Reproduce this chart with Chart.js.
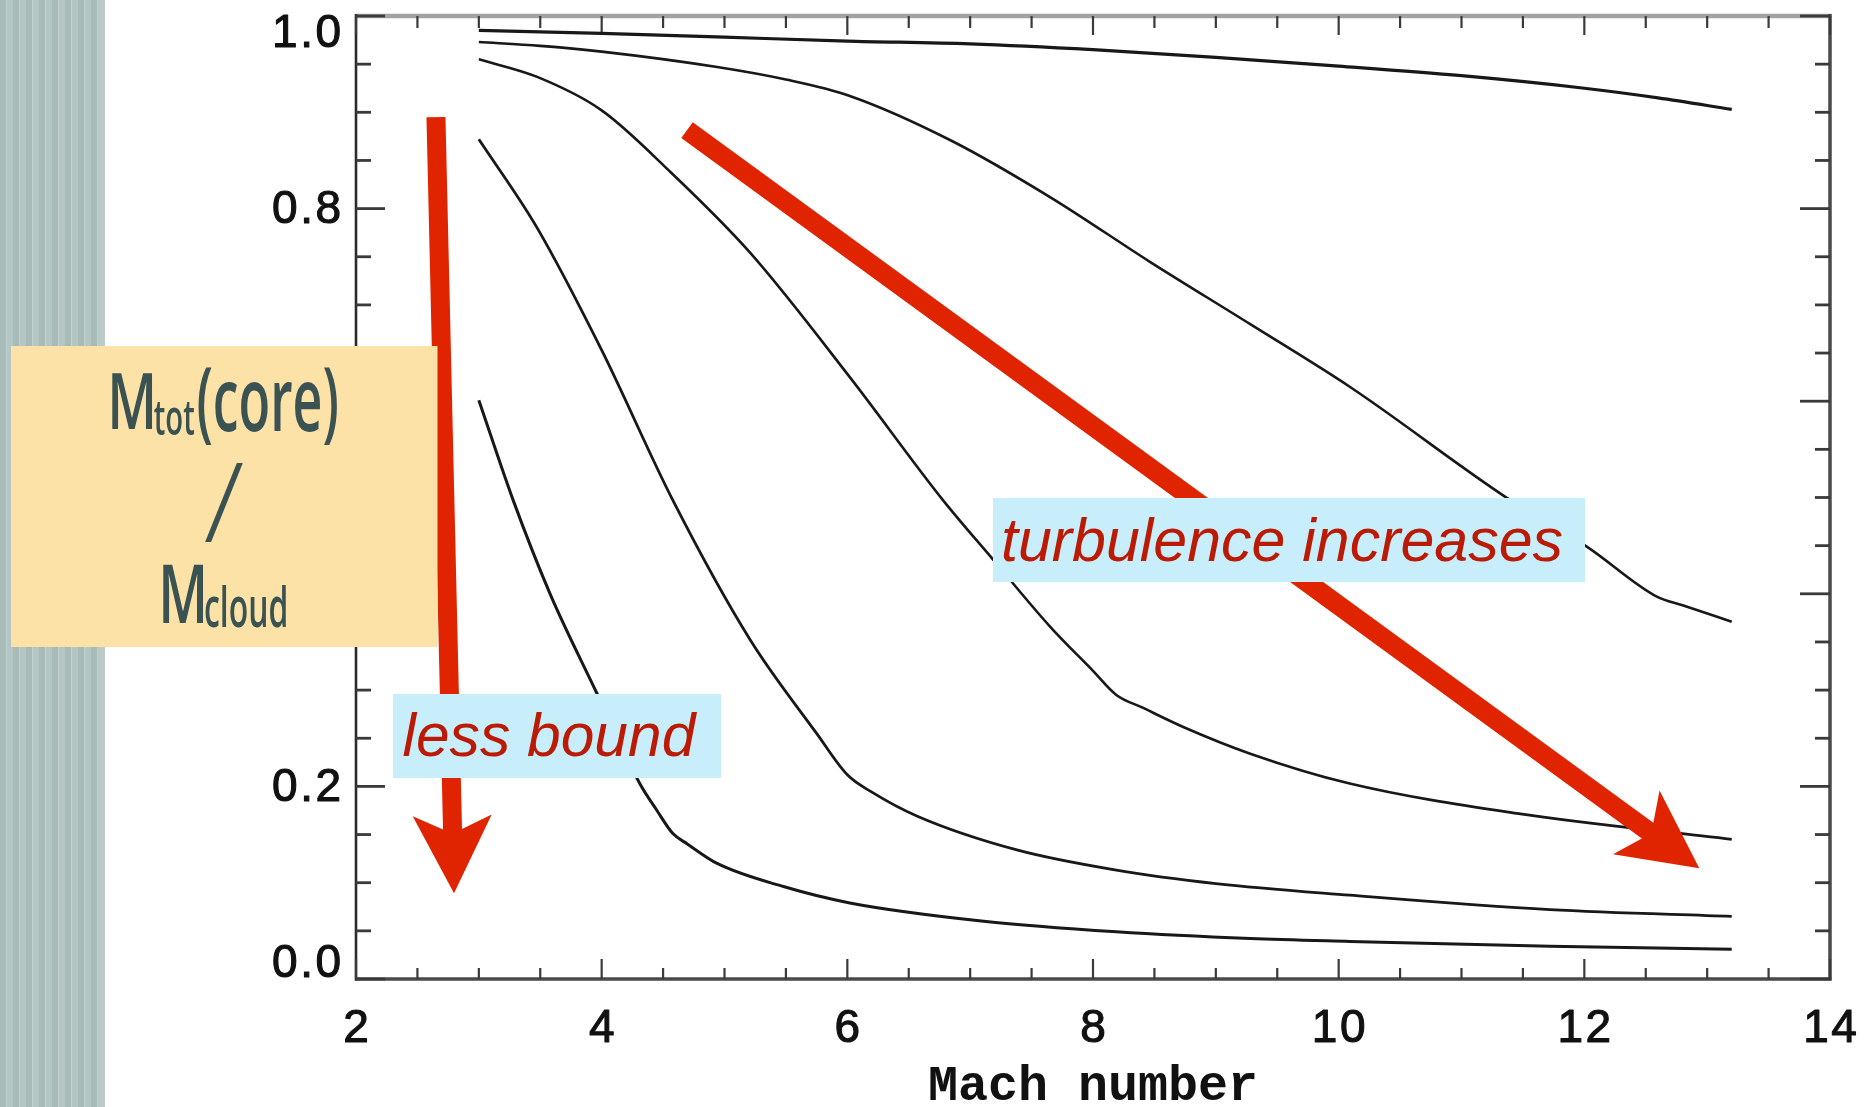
<!DOCTYPE html>
<html>
<head>
<meta charset="utf-8">
<title>Core mass fraction vs Mach number</title>
<script src="https://cdn.jsdelivr.net/npm/chart.js@4"></script>
<style>
  html, body { margin: 0; padding: 0; background: #fff; overflow: hidden; }
  canvas { display: block; }
</style>
</head>
<body>
<canvas id="chart" width="1867" height="1107"></canvas>
<script>
// ---- data: core-to-cloud mass fraction as a function of Mach number, one curve per model ----
const machA = [3.0, 4.0, 5.0, 6.0, 7.0, 8.0, 9.0, 10.0, 11.0, 12.0, 12.6, 13.2];
const fracA = [0.985, 0.982, 0.978, 0.974, 0.971, 0.965, 0.957, 0.948, 0.938, 0.925, 0.915, 0.903];

const machB = [3.0, 3.5, 4.0, 4.94, 5.5, 6.02, 6.84, 7.65, 8.46, 9.28, 10.09, 11.4, 12.02, 12.59, 12.8, 13.2];
const fracB = [0.973, 0.969, 0.963, 0.947, 0.934, 0.917, 0.871, 0.812, 0.745, 0.680, 0.615, 0.497, 0.449, 0.397, 0.388, 0.371];

const machC = [3.0, 3.47, 4.0, 4.56, 5.21, 6.02, 6.78, 7.19, 7.65, 8.0, 8.19, 8.4, 8.73, 9.28, 10.09, 11.45, 13.2];
const fracC = [0.955, 0.937, 0.902, 0.838, 0.754, 0.625, 0.497, 0.435, 0.366, 0.320, 0.295, 0.282, 0.262, 0.234, 0.203, 0.172, 0.145];

const machD = [3.0, 3.47, 4.0, 4.58, 5.21, 5.75, 6.0, 6.2, 6.57, 7.38, 8.19, 9.0, 10.09, 11.72, 13.2];
const fracD = [0.872, 0.781, 0.653, 0.497, 0.352, 0.255, 0.212, 0.194, 0.169, 0.134, 0.113, 0.099, 0.087, 0.072, 0.065];

const machE = [3.0, 3.28, 3.58, 3.96, 4.31, 4.45, 4.58, 4.7, 4.94, 5.48, 6.02, 7.11, 8.19, 9.28, 10.09, 11.72, 13.2];
const fracE = [0.601, 0.497, 0.400, 0.297, 0.203, 0.175, 0.151, 0.140, 0.120, 0.096, 0.079, 0.060, 0.049, 0.042, 0.039, 0.034, 0.031];

// ---- axis ticks and labels ----
const xTickValues = [2, 4, 6, 8, 10, 12, 14];
const xTickLabels = ['2', '4', '6', '8', '10', '12', '14'];
const yTickValues = [0.0, 0.2, 0.4, 0.6, 0.8, 1.0];
const yTickLabels = ['0.0', '0.2', '0.4', '0.6', '0.8', '1.0'];
const xTitle = 'Mach number';

// ---- styling ----
const curveWidths = [3.2, 2.6, 2.6, 2.8, 3.0];
const curveColor = '#181818';
const arrowRed = '#e12400';
const noteRed = '#bb1a05';
const noteBlue = '#c8eefc';
const boxYellow = '#fde2a8';
const boxInk = '#3b5253';
const tickFont = "46px 'Liberation Sans', Arial, sans-serif";
const tickSpacing = 2.5;

// annotation arrows, anchored in data space: [mach, fraction]
const arrowLessBound = { from: [2.651, 0.895], to: [2.798, 0.089] };
const arrowTurbulence = { from: [4.695, 0.8816], to: [12.936, 0.115] };

const series = [[machA, fracA], [machB, fracB], [machC, fracC], [machD, fracD], [machE, fracE]];

const datasets = series.map(([xs, ys], i) => ({
  data: xs.map((x, k) => ({ x: x, y: ys[k] })),
  borderColor: curveColor,
  borderWidth: curveWidths[i],
  pointRadius: 0,
  pointHoverRadius: 0,
  showLine: true,
  fill: false,
  cubicInterpolationMode: 'monotone'
}));

// draw text so that its ink box fills the given rectangle
function fitText(ctx, text, font, box, color) {
  ctx.save();
  ctx.font = font;
  ctx.textAlign = 'left';
  ctx.textBaseline = 'alphabetic';
  const m = ctx.measureText(text);
  const w = m.actualBoundingBoxLeft + m.actualBoundingBoxRight;
  const h = m.actualBoundingBoxAscent + m.actualBoundingBoxDescent;
  ctx.translate(box.x0, box.y0);
  ctx.scale((box.x1 - box.x0) / w, (box.y1 - box.y0) / h);
  ctx.fillStyle = color;
  ctx.fillText(text, m.actualBoundingBoxLeft, m.actualBoundingBoxAscent);
  ctx.restore();
}

// slightly heavy, loosely spaced tick label
function tickText(ctx, text, x, y, align) {
  ctx.save();
  ctx.font = tickFont;
  ctx.letterSpacing = tickSpacing + 'px';
  ctx.textAlign = align;
  ctx.textBaseline = 'middle';
  ctx.fillStyle = '#111';
  ctx.strokeStyle = '#111';
  ctx.lineWidth = 1.1;
  ctx.lineJoin = 'round';
  const shift = align === 'right' ? tickSpacing : (align === 'center' ? tickSpacing / 2 : 0);
  ctx.fillText(text, x + shift, y);
  ctx.strokeText(text, x + shift, y);
  ctx.restore();
}

function drawArrow(ctx, x0, y0, x1, y1, shaftW, headLen, headW, notch) {
  const dx = x1 - x0, dy = y1 - y0, L = Math.hypot(dx, dy);
  const ux = dx / L, uy = dy / L, nx = -uy, ny = ux;
  const bx = x1 - ux * headLen, by = y1 - uy * headLen;
  const sx = x1 - ux * (headLen - notch), sy = y1 - uy * (headLen - notch);
  const hw = shaftW / 2, hh = headW / 2;
  ctx.beginPath();
  ctx.moveTo(x0 + nx * hw, y0 + ny * hw);
  ctx.lineTo(sx + nx * hw, sy + ny * hw);
  ctx.lineTo(bx + nx * hh, by + ny * hh);
  ctx.lineTo(x1, y1);
  ctx.lineTo(bx - nx * hh, by - ny * hh);
  ctx.lineTo(sx - nx * hw, sy - ny * hw);
  ctx.lineTo(x0 - nx * hw, y0 - ny * hw);
  ctx.closePath();
  ctx.fill();
}

function seg(ctx, x0, y0, x1, y1) {
  ctx.beginPath();
  ctx.moveTo(x0, y0);
  ctx.lineTo(x1, y1);
  ctx.stroke();
}

const figurePlugin = {
  id: 'figure',
  beforeDraw(chart) {
    const ctx = chart.ctx;
    const W = chart.width, H = chart.height;
    ctx.save();
    ctx.fillStyle = '#ffffff';
    ctx.fillRect(0, 0, W, H);
    // striped side band
    for (let x = 0; x < 104; x += 13) {
      ctx.fillStyle = '#a7bcb9';
      ctx.fillRect(x, 0, 6.5, H);
      ctx.fillStyle = '#b3c6c3';
      ctx.fillRect(x + 6.5, 0, 6.5, H);
    }
    ctx.fillStyle = '#bacbc8';
    ctx.fillRect(99, 0, 6, H);
    ctx.restore();
  },
  beforeDatasetsDraw(chart) {
    const ctx = chart.ctx;
    const { left, right, top, bottom } = chart.chartArea;
    const xs = chart.scales.x, ys = chart.scales.y;
    ctx.save();
    ctx.lineCap = 'butt';
    // frame
    ctx.strokeStyle = '#a3a3a3'; ctx.lineWidth = 4.5;
    seg(ctx, left, top, right + 1.5, top);
    ctx.strokeStyle = '#4a4a4a'; ctx.lineWidth = 3.5;
    seg(ctx, left - 1, bottom, right + 1.5, bottom);
    seg(ctx, right, top - 2, right, bottom + 1.5);
    ctx.strokeStyle = '#2b2b2b'; ctx.lineWidth = 2.6;
    seg(ctx, left, top - 2, left, bottom + 1.5);

    // x ticks: major every 2, minor every 0.5, pointing inward on bottom and top
    ctx.strokeStyle = '#3a3a3a'; ctx.lineWidth = 2.2;
    for (let k = 0; k <= 24; k++) {
      const v = 2 + k * 0.5;
      const px = xs.getPixelForValue(v);
      const major = k % 4 === 0;
      seg(ctx, px, bottom, px, bottom - (major ? 20 : 11));
      seg(ctx, px, top, px, top + (major ? 19 : 12));
    }
    // y ticks: major every 0.2, minor every 0.05, on left and right
    ctx.strokeStyle = '#3a3a3a'; ctx.lineWidth = 2.8;
    for (let k = 0; k <= 20; k++) {
      const py = ys.getPixelForValue(k * 0.05);
      const major = k % 4 === 0;
      seg(ctx, left, py, left + (major ? 29 : 15), py);
      seg(ctx, right, py, right - (major ? 30 : 15), py);
    }
    ctx.restore();

    // tick labels
    yTickValues.forEach((v, i) => {
      let py = ys.getPixelForValue(v) + 2;
      py = Math.min(Math.max(py, top + 18), bottom - 14.5);
      tickText(ctx, yTickLabels[i], left - 15, py, 'right');
    });
    xTickValues.forEach((v, i) => {
      tickText(ctx, xTickLabels[i], xs.getPixelForValue(v), bottom + 50, 'center');
    });
  },
  afterDatasetsDraw(chart) {
    const ctx = chart.ctx;
    const xs = chart.scales.x, ys = chart.scales.y;
    const P = (pt) => [xs.getPixelForValue(pt[0]), ys.getPixelForValue(pt[1])];
    ctx.save();

    // red arrows
    ctx.fillStyle = arrowRed;
    const a1 = P(arrowLessBound.from), b1 = P(arrowLessBound.to);
    drawArrow(ctx, a1[0], a1[1], b1[0], b1[1], 19, 78, 79, 14);
    const a2 = P(arrowTurbulence.from), b2 = P(arrowTurbulence.to);
    drawArrow(ctx, a2[0], a2[1], b2[0], b2[1], 19.5, 78, 79, 14);

    // quantity label box
    ctx.fillStyle = boxYellow;
    ctx.fillRect(11, 346, 426.5, 301);
    const heavy = "650 100px 'Open Sans', 'Noto Sans', sans-serif";
    const slash = "300 100px 'Open Sans', 'Noto Sans', sans-serif";
    fitText(ctx, 'M', heavy, { x0: 112, y0: 373, x1: 152, y1: 429 }, boxInk);
    fitText(ctx, 'tot', heavy, { x0: 154, y0: 402, x1: 194, y1: 435 }, boxInk);
    fitText(ctx, '(core)', heavy, { x0: 198.5, y0: 367, x1: 337, y1: 445 }, boxInk);
    fitText(ctx, '/', slash, { x0: 205, y0: 463, x1: 243, y1: 542 }, boxInk);
    fitText(ctx, 'M', heavy, { x0: 163, y0: 565, x1: 203, y1: 623 }, boxInk);
    fitText(ctx, 'cloud', heavy, { x0: 205.5, y0: 585, x1: 286, y1: 628 }, boxInk);

    // note boxes
    ctx.fillStyle = noteBlue;
    ctx.fillRect(393, 694, 328, 84);
    ctx.fillRect(993, 498, 592, 84);
    const italic = "italic 60px 'Liberation Sans', Arial, sans-serif";
    fitText(ctx, 'less bound', italic, { x0: 402.5, y0: 713, x1: 697, y1: 757.5 }, noteRed);
    fitText(ctx, 'turbulence increases', italic, { x0: 1003, y0: 518, x1: 1562, y1: 562.5 }, noteRed);
    ctx.restore();
  }
};

new Chart(document.getElementById('chart'), {
  type: 'scatter',
  data: { datasets: datasets },
  options: {
    responsive: false,
    animation: false,
    devicePixelRatio: 1,
    layout: { padding: { left: 356, right: 37, top: 16, bottom: 0 } },
    plugins: { legend: { display: false }, tooltip: { enabled: false } },
    events: [],
    scales: {
      x: {
        type: 'linear', position: 'bottom', min: 2, max: 14,
        afterBuildTicks: (s) => { s.ticks = xTickValues.map(v => ({ value: v })); },
        afterFit: (s) => { s.height = 128; },
        ticks: { display: false },
        grid: { display: false, drawTicks: false },
        border: { display: false },
        title: {
          display: true, text: xTitle, color: '#111',
          font: { family: "'Liberation Mono', monospace", size: 50, weight: 'bold', lineHeight: 0.8 },
          padding: { top: 0, bottom: 0 }
        }
      },
      y: {
        type: 'linear', min: 0, max: 1,
        afterFit: (s) => { s.width = 0; },
        ticks: { display: false },
        grid: { display: false, drawTicks: false },
        border: { display: false }
      }
    }
  },
  plugins: [figurePlugin]
});
</script>
</body>
</html>
